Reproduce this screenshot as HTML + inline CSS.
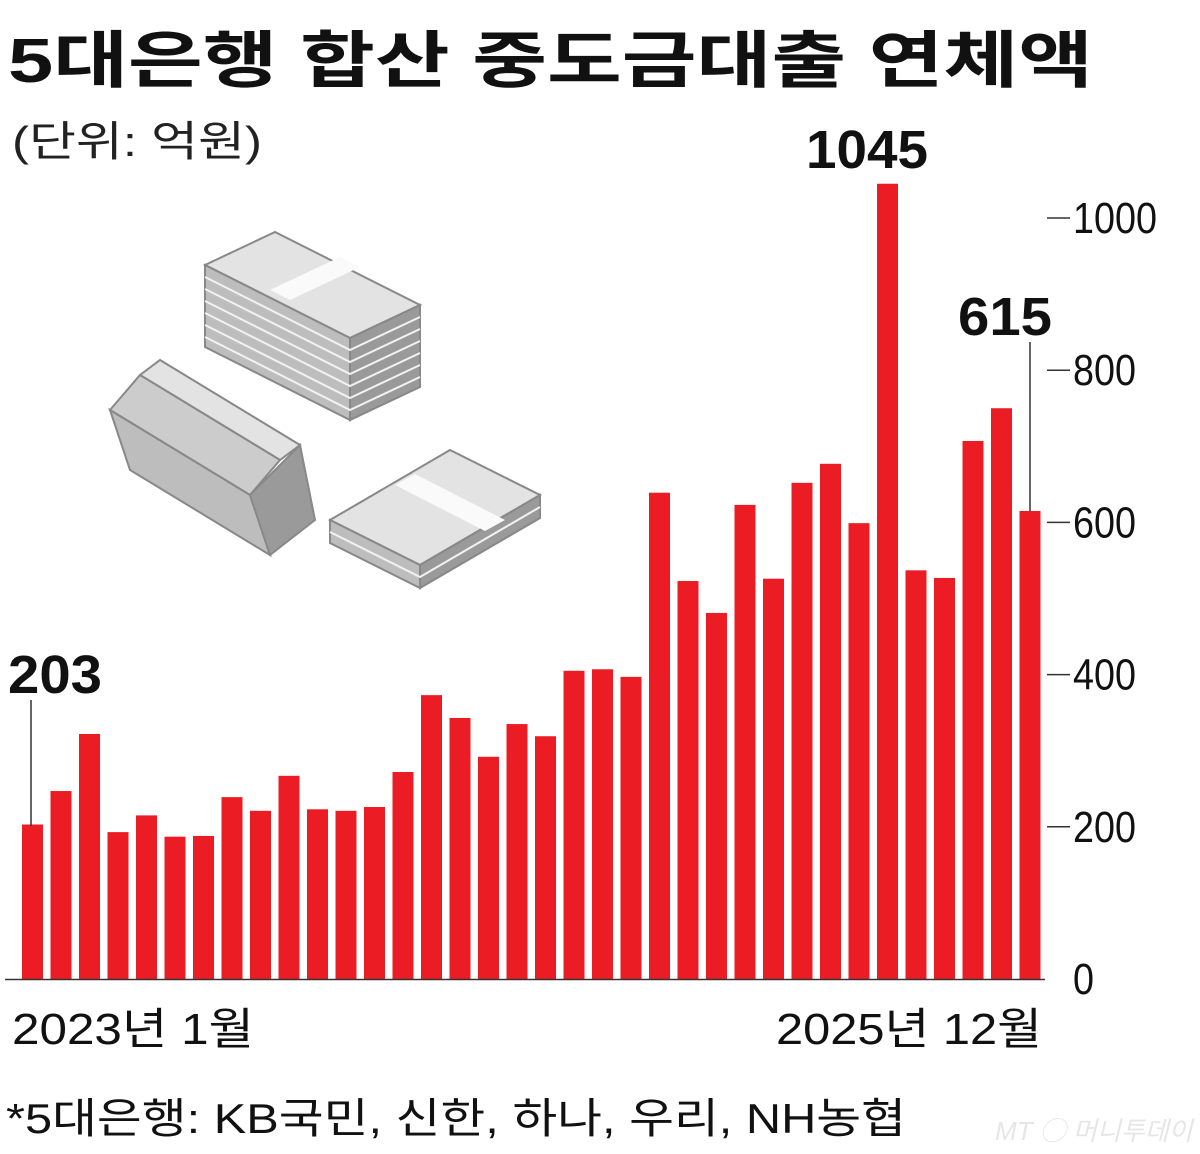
<!DOCTYPE html>
<html><head><meta charset="utf-8">
<style>
html,body{margin:0;padding:0;background:#fff;}
svg{display:block;}
text{font-family:"Liberation Sans","Noto Sans CJK KR",sans-serif;}
</style></head>
<body>
<svg id="chart" width="1200" height="1154" viewBox="0 0 1200 1154" xmlns="http://www.w3.org/2000/svg">
<rect width="1200" height="1154" fill="#fff"/>
<text x="8" y="82" font-size="62" font-weight="bold" fill="#111" textLength="1085" lengthAdjust="spacingAndGlyphs">5대은행 합산 중도금대출 연체액</text>
<text x="12" y="156" font-size="42" fill="#222" textLength="250" lengthAdjust="spacingAndGlyphs">(단위: 억원)</text>

<g fill="#d6d6d6" stroke="#888" stroke-width="2">
  <polygon points="205,265 275,232 420,305 350,338" fill="#e3e3e3"/>
  <polygon points="205,265 350,338 350,420 205,347" fill="#bdbdbd"/>
  <polygon points="350,338 420,305 420,387 350,420" fill="#9a9a9a"/>
  <polygon points="270,290 340,257 360,267 290,300" fill="#fafafa" stroke="none"/>
  <polygon points="140,375 160,360 300,445 280,460" fill="#e3e3e3"/>
  <polygon points="110,410 140,375 280,460 250,495" fill="#ccc"/>
  <polygon points="110,410 250,495 270,555 130,470" fill="#bdbdbd"/>
  <polygon points="250,495 300,445 315,520 270,555" fill="#9a9a9a"/>
  <polygon points="330,520 450,450 540,495 420,565" fill="#e3e3e3"/>
  <polygon points="330,520 420,565 420,588 330,543" fill="#bdbdbd"/>
  <polygon points="420,565 540,495 540,518 420,588" fill="#9a9a9a"/>
  <polygon points="395,485 415,474 505,520 485,531" fill="#fafafa" stroke="none"/>
  <g stroke="#f2f2f2" stroke-width="2" fill="none">
    <path d="M205,277 L350,350 L420,317 M205,289 L350,362 L420,329 M205,301 L350,374 L420,341 M205,313 L350,386 L420,353 M205,325 L350,398 L420,365 M205,337 L350,410 L420,377"/>
    <path d="M330,532 L420,577 L540,507"/>
  </g>
</g>

<g id="bars"></g>
<g id="axis"></g>

<line x1="31" y1="700" x2="31" y2="826" stroke="#333" stroke-width="1.5"/>
<text x="8" y="693" font-size="54" font-weight="bold" fill="#111" textLength="94" lengthAdjust="spacingAndGlyphs">203</text>
<text x="806" y="168" font-size="54" font-weight="bold" fill="#111" textLength="122" lengthAdjust="spacingAndGlyphs">1045</text>
<line x1="1030" y1="342" x2="1030" y2="511" stroke="#333" stroke-width="1.5"/>
<text x="958" y="335" font-size="54" font-weight="bold" fill="#111" textLength="94" lengthAdjust="spacingAndGlyphs">615</text>

<line x1="5" y1="979.5" x2="1045" y2="979.5" stroke="#333" stroke-width="1.5"/>
<text x="12" y="1044" font-size="44" fill="#111" textLength="242" lengthAdjust="spacingAndGlyphs">2023년 1월</text>
<text x="776" y="1044" font-size="44" fill="#111" textLength="266" lengthAdjust="spacingAndGlyphs">2025년 12월</text>
<text x="6" y="1133" font-size="42" fill="#111" textLength="900" lengthAdjust="spacingAndGlyphs">*5대은행: KB국민, 신한, 하나, 우리, NH농협</text>
<text x="995" y="1140" font-size="26" fill="#e6e6e6" font-style="italic">MT ◯ 머니투데이</text>
</svg>
<script>
const months = Array.from({length:36},(_,i)=>(2023+Math.floor(i/12))+'-'+(i%12+1));
const values = [203,247,322,193,215,187,188,239,221,267,223,221,226,272,373,343,292,335,319,405,407,397,639,523,481,623,526,652,677,599,1045,537,527,707,750,615];
const yTicks = [0,200,400,600,800,1000];
const tickLabels = ['0','200','400','600','800','1000'];
const NS='http://www.w3.org/2000/svg';
const y0=979, pxPerUnit=0.761;
function yScale(v){return y0 - v*pxPerUnit;}
const x0=22, pitch=28.5, bw=21;
function xScale(i){return x0 + i*pitch;}
const bars=document.getElementById('bars');
values.forEach((v,i)=>{
  const r=document.createElementNS(NS,'rect');
  r.setAttribute('x',xScale(i));
  r.setAttribute('y',yScale(v));
  r.setAttribute('width',bw);
  r.setAttribute('height',y0-yScale(v));
  r.setAttribute('fill','#ec1c24');
  
  
  bars.appendChild(r);
});
const axis=document.getElementById('axis');
yTicks.forEach((t,i)=>{
  const y=yScale(t);
  if(t>0){
    const l=document.createElementNS(NS,'line');
    l.setAttribute('x1',1047);l.setAttribute('x2',1070);
    l.setAttribute('y1',y);l.setAttribute('y2',y);
    l.setAttribute('stroke','#333');l.setAttribute('stroke-width','1.5');
    
    
    axis.appendChild(l);
  }
  const tx=document.createElementNS(NS,'text');
  tx.setAttribute('x',1073);tx.setAttribute('y',y+15);
  tx.setAttribute('font-size','44');tx.setAttribute('fill','#111');
  tx.setAttribute('textLength',tickLabels[i].length*21);
  tx.setAttribute('lengthAdjust','spacingAndGlyphs');
  
  
  tx.textContent=tickLabels[i];
  axis.appendChild(tx);
});
</script>
</body></html>
